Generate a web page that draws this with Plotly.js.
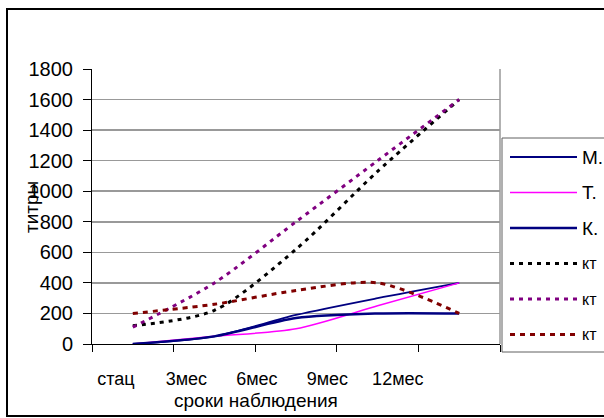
<!DOCTYPE html>
<html>
<head>
<meta charset="utf-8">
<script src="https://cdn.plot.ly/plotly-3.0.1.min.js"></script>
<style>html,body{margin:0;padding:0;background:#fff;}#chart{width:604px;height:418px;}</style>
</head>
<body>
<div id="chart"></div>
<script>
// ---- data ----
const categories = ['стац', '3мес', '6мес', '9мес', '12мес'];
const seriesNames = ['М.', 'Т.', 'К.', 'кт', 'кт', 'кт'];
const M = [0, 50, 190, 300, 400];
const T = [0, 50, 100, 250, 400];
const K = [0, 50, 170, 200, 200];
const kt1 = [120, 220, 620, 1130, 1600];
const kt2 = [110, 400, 800, 1200, 1600];
const kt3 = [200, 260, 350, 400, 200];
const yTicks = [0, 200, 400, 600, 800, 1000, 1200, 1400, 1600, 1800];

const styles = [
  {color: '#000080', width: 1.8, dash: 'solid'},
  {color: '#FF00FF', width: 1.5, dash: 'solid'},
  {color: '#000080', width: 2.5, dash: 'solid'},
  {color: '#000000', width: 3, dash: '4px,5px'},
  {color: '#800080', width: 3, dash: '4px,5px'},
  {color: '#800000', width: 3, dash: '5px,5px'}
];
const values = [M, T, K, kt1, kt2, kt3];

const traces = values.map((v, i) => ({
  x: categories, y: v, type: 'scatter', mode: 'lines',
  name: seriesNames[i], showlegend: false, hoverinfo: 'none',
  line: {color: styles[i].color, width: styles[i].width, dash: styles[i].dash, shape: 'spline', smoothing: 0.8}
}));
// empty carrier so the label axis is drawn
traces.push({x: [0, 4], y: [null, null], xaxis: 'x2', yaxis: 'y', type: 'scatter', mode: 'lines', showlegend: false, hoverinfo: 'none'});

const L = 92, R = 500, TOP = 69, BOT = 344;
const px = x => (x - L) / (R - L);
const py = y => (BOT - y) / (BOT - TOP);

const font = 'Liberation Sans, Arial, sans-serif';
const shapes = [
  {type: 'rect', xref: 'paper', yref: 'paper', x0: px(7), x1: px(615), y0: py(416), y1: py(9), line: {color: '#000', width: 2}},
  {type: 'line', xref: 'paper', yref: 'paper', x0: 1, x1: 1, y0: 0, y1: 1, line: {color: '#999999', width: 1.5}},
  {type: 'rect', xref: 'paper', yref: 'paper', x0: px(502), x1: px(640), y0: py(352), y1: py(138), line: {color: '#606060', width: 1}}
];
const annotations = [
  {text: 'сроки наблюдения', xref: 'paper', yref: 'paper', x: px(256), y: py(400), showarrow: false, font: {family: font, size: 19, color: '#000'}, xanchor: 'center', yanchor: 'middle'},
  {text: 'титры', xref: 'paper', yref: 'paper', x: px(31), y: py(207), showarrow: false, textangle: -90, font: {family: font, size: 19, color: '#000'}, xanchor: 'center', yanchor: 'middle'}
];
seriesNames.forEach((n, i) => {
  const yy = 157 + i * 35.5;
  shapes.push({type: 'line', xref: 'paper', yref: 'paper', x0: px(510), x1: px(577), y0: py(yy), y1: py(yy),
    line: {color: styles[i].color, width: styles[i].width, dash: styles[i].dash}});
  annotations.push({text: n, xref: 'paper', yref: 'paper', x: px(580), y: py(yy), showarrow: false,
    xanchor: 'left', yanchor: 'middle', font: {family: font, size: i < 3 ? 19 : 16, color: '#000'}});
});

const layout = {
  width: 604, height: 418,
  margin: {l: L, r: 604 - R, t: TOP, b: 418 - BOT},
  paper_bgcolor: '#fff', plot_bgcolor: '#fff',
  showlegend: false,
  font: {family: font, color: '#000'},
  xaxis: {
    type: 'category', range: [-0.5, 4.5], tickson: 'boundaries',
    ticks: 'outside', ticklen: 7, tickcolor: '#000', showticklabels: false,
    showline: true, linecolor: '#000', linewidth: 1, showgrid: false, zeroline: false, fixedrange: true
  },
  xaxis2: {
    overlaying: 'x', anchor: 'y', side: 'bottom', type: 'linear', range: [-0.34, 5.45],
    tickvals: [0, 1, 2, 3, 4], ticktext: categories, ticks: '', showline: false, showgrid: false, zeroline: false,
    tickfont: {family: font, size: 18, color: '#000'}, ticklabelstandoff: 22, fixedrange: true
  },
  yaxis: {
    range: [0, 1800], tickvals: yTicks, ticktext: yTicks.map(String),
    ticks: 'outside', ticklen: 8, tickcolor: '#000',
    tickfont: {family: font, size: 20, color: '#000'}, ticklabelstandoff: 6,
    showline: true, linecolor: '#000', linewidth: 1,
    showgrid: true, gridcolor: '#999999', gridwidth: 1.5, zeroline: false, fixedrange: true
  },
  shapes: shapes,
  annotations: annotations
};

Plotly.newPlot('chart', traces, layout, {staticPlot: true, displayModeBar: false});
</script>
</body>
</html>
